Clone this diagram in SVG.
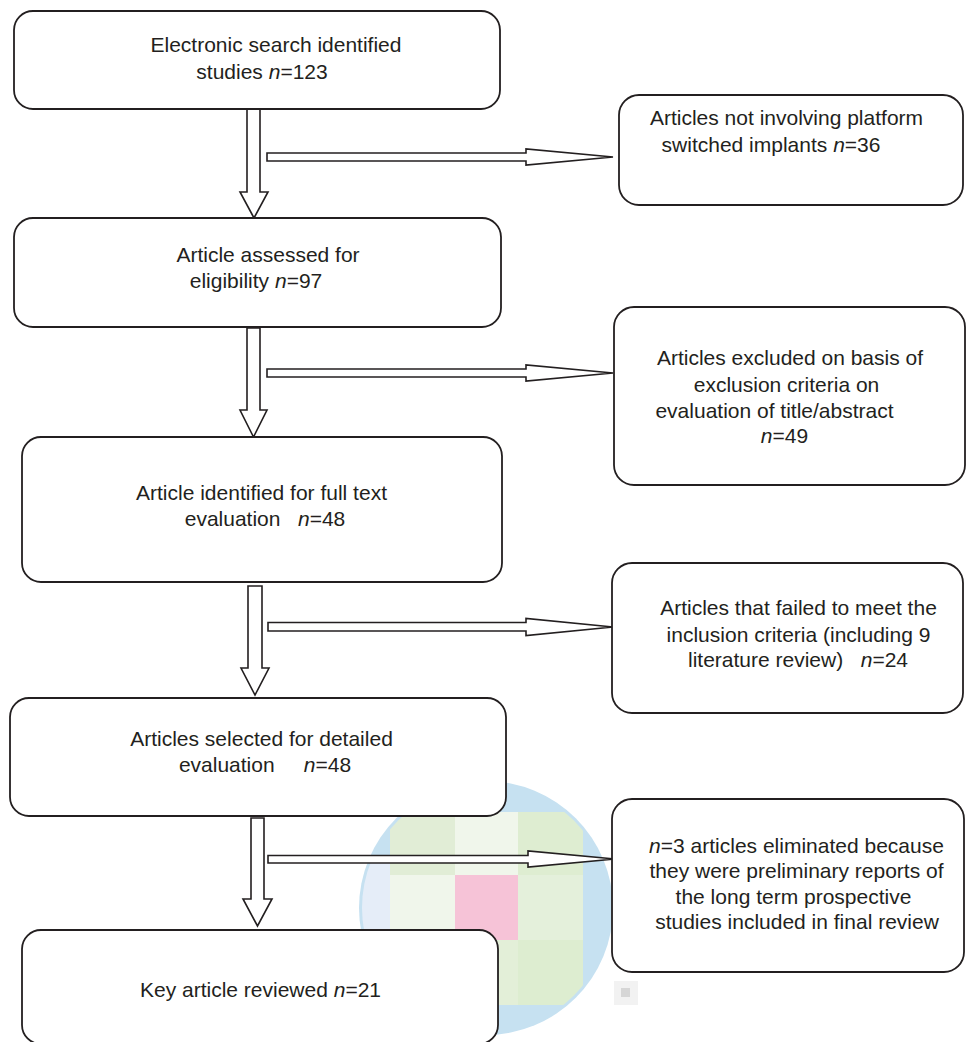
<svg xmlns="http://www.w3.org/2000/svg" width="966" height="1042" viewBox="0 0 966 1042">
<style>
.box{fill:#fff;stroke:#231f20;stroke-width:1.8}
.arr{fill:#fff;stroke:#231f20;stroke-width:1.6;stroke-linejoin:miter}
text{font-family:"Liberation Sans",Arial,Helvetica,sans-serif;font-size:21px;fill:#231f20;text-anchor:middle;white-space:pre}
.i{font-style:italic}
</style>
<defs>
<clipPath id="wmclip"><circle cx="486" cy="908" r="124"/></clipPath>
</defs>
<rect x="0" y="0" width="966" height="1042" fill="#fff"/>
<g id="watermark">
<circle cx="486" cy="908" r="127" fill="#c6e1f1"/>
<g clip-path="url(#wmclip)">
<rect x="350" y="860" width="40" height="100" fill="#e5edf8"/>
<rect x="390" y="812" width="65" height="63" fill="#e1edd6"/>
<rect x="455" y="812" width="63" height="63" fill="#f0f6eb"/>
<rect x="518" y="812" width="65" height="63" fill="#deedd1"/>
<rect x="390" y="875" width="65" height="65" fill="#f0f6eb"/>
<rect x="455" y="875" width="63" height="65" fill="#f6c3d7"/>
<rect x="518" y="875" width="65" height="65" fill="#e4f0db"/>
<rect x="390" y="940" width="65" height="65" fill="#e1edd6"/>
<rect x="455" y="940" width="63" height="65" fill="#e3efd8"/>
<rect x="518" y="940" width="65" height="65" fill="#ddedd0"/>
</g>
<rect x="614" y="981" width="24" height="24" fill="#f2f2f2"/>
<rect x="621" y="988" width="9" height="9" fill="#d6d6d6"/>
</g>
<g id="connectors">
<polygon class="arr" points="247,109 260,109 260,192 268,192 254,218 240,192 247,192"/>
<polygon class="arr" points="247,328 260,328 260,410 267,410 253.5,437 240,410 247,410"/>
<polygon class="arr" points="248,586 262,586 262,668 269,668 255,695 241,668 248,668"/>
<polygon class="arr" points="251,818 264,818 264,899 272,899 257.5,926 243,899 251,899"/>
<polygon class="arr" points="267,153 526,153 526,149 613,157 526,165 526,161 267,161"/>
<polygon class="arr" points="267,369 526,369 526,365 613,373 526,381 526,377 267,377"/>
<polygon class="arr" points="268,622.5 526,622.5 526,618.5 613,627 526,635.5 526,631 268,631"/>
<polygon class="arr" points="268,855.5 528,855.5 528,851 615,859 528,867 528,863 268,863"/>
</g>
<g id="n1">
<rect class="box" x="14" y="11" width="486" height="98" rx="19"/>
<text x="276" y="52">Electronic search identified</text>
<text x="262" y="79">studies <tspan class="i">n</tspan>=123</text>
</g>
<g id="n2">
<rect class="box" x="14" y="218" width="487" height="109" rx="19"/>
<text x="268" y="262">Article assessed for</text>
<text x="256" y="288">eligibility <tspan class="i">n</tspan>=97</text>
</g>
<g id="n3">
<rect class="box" x="22" y="437" width="480" height="145" rx="19"/>
<text x="261.5" y="500">Article identified for full text</text>
<text x="265" y="526">evaluation   <tspan class="i">n</tspan>=48</text>
</g>
<g id="n4">
<rect class="box" x="10" y="698" width="496" height="118" rx="19"/>
<text x="261.5" y="746">Articles selected for detailed</text>
<text x="265" y="772">evaluation     <tspan class="i">n</tspan>=48</text>
</g>
<g id="n5">
<rect class="box" x="22" y="930" width="476" height="114" rx="19"/>
<text x="260.5" y="997">Key article reviewed <tspan class="i">n</tspan>=21</text>
</g>
<g id="r1">
<rect class="box" x="619" y="95" width="344" height="110" rx="20"/>
<text x="786.5" y="125">Articles not involving platform</text>
<text x="771" y="152">switched implants <tspan class="i">n</tspan>=36</text>
</g>
<g id="r2">
<rect class="box" x="614" y="307" width="351" height="178" rx="20"/>
<text x="790" y="365">Articles excluded on basis of</text>
<text x="786.5" y="392">exclusion criteria on</text>
<text x="774.5" y="418">evaluation of title/abstract</text>
<text x="784.5" y="443"><tspan class="i">n</tspan>=49</text>
</g>
<g id="r3">
<rect class="box" x="612" y="563" width="351" height="150" rx="20"/>
<text x="798.5" y="615">Articles that failed to meet the</text>
<text x="798.5" y="642">inclusion criteria (including 9</text>
<text x="798" y="667">literature review)   <tspan class="i">n</tspan>=24</text>
</g>
<g id="r4">
<rect class="box" x="612" y="799" width="352" height="173" rx="20"/>
<text x="796.5" y="853"><tspan class="i">n</tspan>=3 articles eliminated because</text>
<text x="796.5" y="878">they were preliminary reports of</text>
<text x="793.5" y="904">the long term prospective</text>
<text x="797" y="929">studies included in final review</text>
</g>
</svg>
